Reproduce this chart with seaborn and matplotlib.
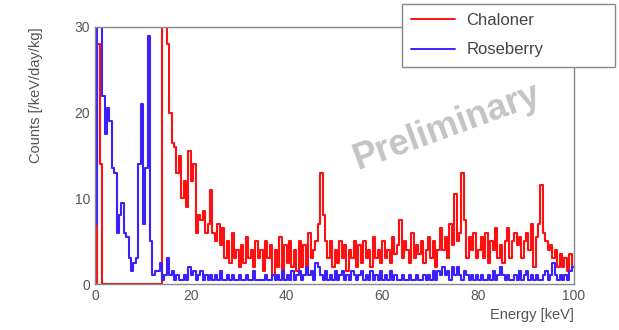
import numpy as np
import pandas as pd
import matplotlib
matplotlib.use("Agg")
import matplotlib.pyplot as plt
from matplotlib.ticker import MultipleLocator
from matplotlib.lines import Line2D
import seaborn as sns

# 0.5 keV bins from 0 to 100 keV
bin_width = 0.5
energy_edges = np.arange(0, 100 + bin_width, bin_width)

chaloner = [
    0, 28, 14, 0, 0, 0, 0, 0, 0, 0,
    0, 0, 0, 0, 0, 0, 0, 0, 0, 0,
    0, 0, 0, 0, 0, 0, 0, 0, 38, 38,
    28, 20, 16.5, 16, 13, 15, 10, 12, 9, 15.5,
    12, 14, 6, 8, 7.5, 8.5, 6, 7, 11, 6,
    5, 7, 4.5, 6.5, 3, 5, 2.5, 6, 3, 4,
    2, 4.5, 2.5, 5.5, 3, 4, 2, 5, 3, 4,
    1.5, 5, 3, 4.5, 1, 4, 2, 5.5, 1, 4.5,
    2.5, 5, 2, 4, 1.5, 5, 2, 4.5, 2, 6,
    3, 4, 5, 7, 13, 8, 5, 3, 5, 2,
    4, 2.5, 5, 3, 4.5, 1.5, 4, 3, 5, 2,
    4.5, 2.5, 5, 3, 4, 2, 5.5, 3, 4, 2.5,
    5, 3, 4, 2.5, 5.5, 3.5, 4.5, 7.5, 3, 5,
    4, 2.5, 6, 3, 4.5, 3.5, 5, 2.5, 4, 5.5,
    3, 5, 2, 4, 6.5, 4, 5.5, 3, 7, 4.5,
    10.5, 5, 6, 13, 7.5, 3, 5.5, 4, 6, 3,
    4, 5.5, 3, 6, 2.5, 5, 4, 6.5, 3, 4.5,
    2.5, 5, 6.5, 3, 5, 6, 4.5, 5.5, 3, 5,
    6, 4, 7, 2, 5.5, 7, 11.5, 6, 5, 4,
    4.5, 3, 4, 2, 3.5, 2, 3, 1.5, 3.5, 2,
]

roseberry = [
    7, 38, 38, 22, 17.5, 20.5, 19, 13.5, 13, 6,
    8, 9.5, 6, 5.5, 3, 1.5, 2.5, 3, 14, 21,
    7, 13.5, 29, 5, 1, 1.5, 1.5, 2.5, 0.5, 1,
    3, 1, 1.5, 0.5, 1, 0.5, 0.5, 1, 0.5, 2,
    1, 1.5, 0.5, 1, 1.5, 0.5, 1, 0.5, 1, 0.5,
    1, 0.5, 1.5, 0.5, 0.5, 1, 0.5, 1, 0.5, 0.5,
    1, 0.5, 0.5, 1, 0.5, 0.5, 1.5, 0.5, 0.5, 0.5,
    0.5, 1, 0.5, 0.5, 1, 0.5, 1, 0.5, 1.5, 0.5,
    1, 0.5, 1.5, 0.5, 1, 1.5, 0.5, 1, 2, 1,
    1.5, 0.5, 2.5, 2, 1, 0.5, 1.5, 0.5, 1, 0.5,
    1.5, 0.5, 1, 1.5, 0.5, 1, 0.5, 1.5, 1, 0.5,
    1, 1.5, 0.5, 1, 0.5, 1.5, 0.5, 1, 0.5, 1.5,
    0.5, 1, 0.5, 1.5, 0.5, 1, 0.5, 0.5, 1, 0.5,
    0.5, 1, 0.5, 0.5, 1, 0.5, 0.5, 1, 0.5, 1,
    0.5, 1.5, 0.5, 1.5, 1, 2, 1, 1.5, 0.5, 2,
    1, 2, 1, 0.5, 1.5, 1, 0.5, 1, 0.5, 1,
    0.5, 1, 0.5, 0.5, 1, 0.5, 1.5, 0.5, 1, 2,
    1, 0.5, 1, 0.5, 0.5, 1, 0.5, 1.5, 0.5, 1,
    1.5, 0.5, 1, 0.5, 1, 0.5, 0.5, 1, 1.5, 0.5,
    1, 2.5, 1, 0.5, 1, 0.5, 1, 0.5, 1.5, 2,
]

centers = energy_edges[:-1] + bin_width / 2
df = pd.DataFrame({
    "energy": np.concatenate([centers, centers]),
    "counts": np.concatenate([chaloner, roseberry]),
    "site": ["Chaloner"] * len(centers) + ["Roseberry"] * len(centers),
})

sns.set_style("white")
plt.rcParams["font.family"] = ["Liberation Sans", "DejaVu Sans"]

fig = plt.figure(figsize=(6.19, 3.30), dpi=100)
ax = fig.add_axes([95 / 619, 1 - 284 / 330, 479 / 619, 257 / 330])

colors = {"Chaloner": "#ff1010", "Roseberry": "#3c20ff"}
for site in ["Chaloner", "Roseberry"]:
    sub = df[df["site"] == site]
    sns.histplot(data=sub, x="energy", weights="counts", binwidth=bin_width,
                 binrange=(0, 100), element="step", fill=False,
                 color=colors[site], linewidth=1.5, ax=ax)

ax.set_xlim(0, 100)
ax.set_ylim(0, 30)
ax.set_xticks([0, 20, 40, 60, 80, 100])
ax.set_yticks([0, 10, 20, 30])
ax.xaxis.set_minor_locator(MultipleLocator(4))
ax.yaxis.set_minor_locator(MultipleLocator(1))
ax.tick_params(which="both", direction="in", colors="#888888",
               labelcolor="#555555", labelsize=10)
ax.tick_params(which="major", length=6, width=0.8)
ax.tick_params(which="minor", length=3, width=0.6)
for s in ax.spines.values():
    s.set_color("#888888")
    s.set_linewidth(1.0)

ax.set_xlabel("Energy [keV]", loc="right", fontsize=10.5, color="#555555")
ax.set_ylabel("Counts [/keV/day/kg]", loc="top", fontsize=10.5, color="#555555")
ax.yaxis.set_label_coords(-52 / 479, 1.0)

ax.text(0.735, 0.61, "Preliminary", transform=ax.transAxes, rotation=20,
        ha="center", va="center", fontsize=26, fontweight="bold",
        color="#c4c4c4", zorder=0)

handles = [Line2D([], [], color=colors[s], linewidth=1.4) for s in colors]
leg = ax.legend(handles, list(colors), loc="upper left",
                bbox_to_anchor=(402 / 619, 1 - 66 / 330, 213 / 619, 62 / 330),
                bbox_transform=fig.transFigure, mode="expand", fontsize=12,
                frameon=True, fancybox=False, borderaxespad=0, handlelength=2.6,
                labelspacing=0.85, borderpad=0.55, handletextpad=0.7,
                labelcolor="#444444", framealpha=1)
leg.get_frame().set_edgecolor("#888888")
leg.get_frame().set_linewidth(1.0)
leg.set_zorder(5)

fig.savefig("out.png", dpi=100)
